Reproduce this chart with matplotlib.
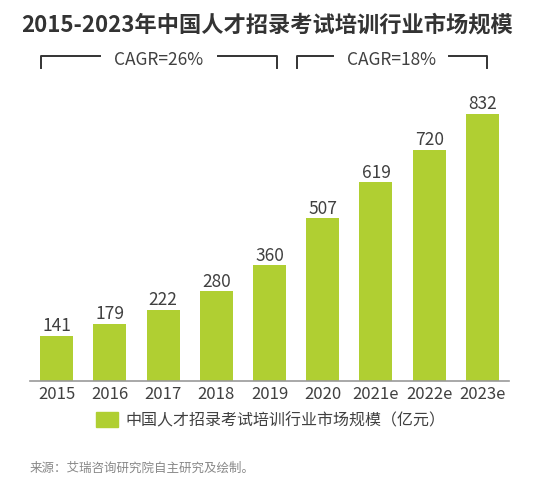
import matplotlib.pyplot as plt
from matplotlib.patches import Rectangle

plt.rcParams['font.family'] = ['Noto Sans CJK SC', 'DejaVu Sans']

# -------------------------------
# data
# -------------------------------
years = ['2015', '2016', '2017', '2018', '2019', '2020', '2021e', '2022e', '2023e']
values = [141, 179, 222, 280, 360, 507, 619, 720, 832]
cagr_labels = ['CAGR=26%', 'CAGR=18%']
series_name = '中国人才招录考试培训行业市场规模（亿元）'
title = '2015-2023年中国人才招录考试培训行业市场规模'
source = '来源：艾瑞咨询研究院自主研究及绘制。'

bar_color = '#b0cf32'
text_color = '#404040'

W, H = 535, 485
fig = plt.figure(figsize=(W / 100, H / 100), dpi=100)


def fx(px):
    return px / W


def fy(py):
    return 1 - py / H


# axes: baseline at y=382, top at y=100
ax = fig.add_axes([fx(30), fy(382), fx(479), (382 - 100) / H])
x = list(range(len(years)))
ax.bar(x, values, width=0.62, color=bar_color)
ax.set_xlim(-0.5, len(years) - 0.5)
ax.set_ylim(0, 878)

for xi, v in zip(x, values):
    ax.annotate(str(v), (xi, v), xytext=(0, 1), textcoords='offset points',
                ha='center', va='bottom', fontsize=12.5, color=text_color)

ax.set_xticks(x)
ax.set_xticklabels(years, fontsize=12, color=text_color)
ax.tick_params(axis='x', length=0, pad=3)
ax.set_yticks([])
for s in ['top', 'left', 'right']:
    ax.spines[s].set_visible(False)
ax.spines['bottom'].set_color('#999999')
ax.spines['bottom'].set_linewidth(1.2)

# title
fig.text(0.5, fy(25), title, ha='center', va='center', fontsize=16,
         fontweight='bold', color='#333333')

# CAGR brackets
brackets = [(41, 100, 218, 277), (297, 333, 449, 487)]
for (x0, x1, x2, x3), lab in zip(brackets, cagr_labels):
    kw = dict(transform=fig.transFigure, color='#333333', lw=1.4)
    fig.add_artist(plt.Line2D([fx(x0), fx(x0), fx(x1)], [fy(69), fy(57), fy(57)], **kw))
    fig.add_artist(plt.Line2D([fx(x2), fx(x3), fx(x3)], [fy(57), fy(57), fy(69)], **kw))
    fig.text(fx((x1 + x2) / 2), fy(60), lab, ha='center', va='center',
             fontsize=12.5, color=text_color)

# legend
fig.add_artist(Rectangle((fx(96), fy(428)), fx(22), 15 / H,
                         transform=fig.transFigure, color=bar_color))
fig.text(fx(125), fy(421), series_name, ha='left', va='center',
         fontsize=11.5, color=text_color)

# source
fig.text(fx(30), fy(468), source, ha='left', va='center', fontsize=9,
         color='#888888')

plt.savefig('out.png', dpi=100)
